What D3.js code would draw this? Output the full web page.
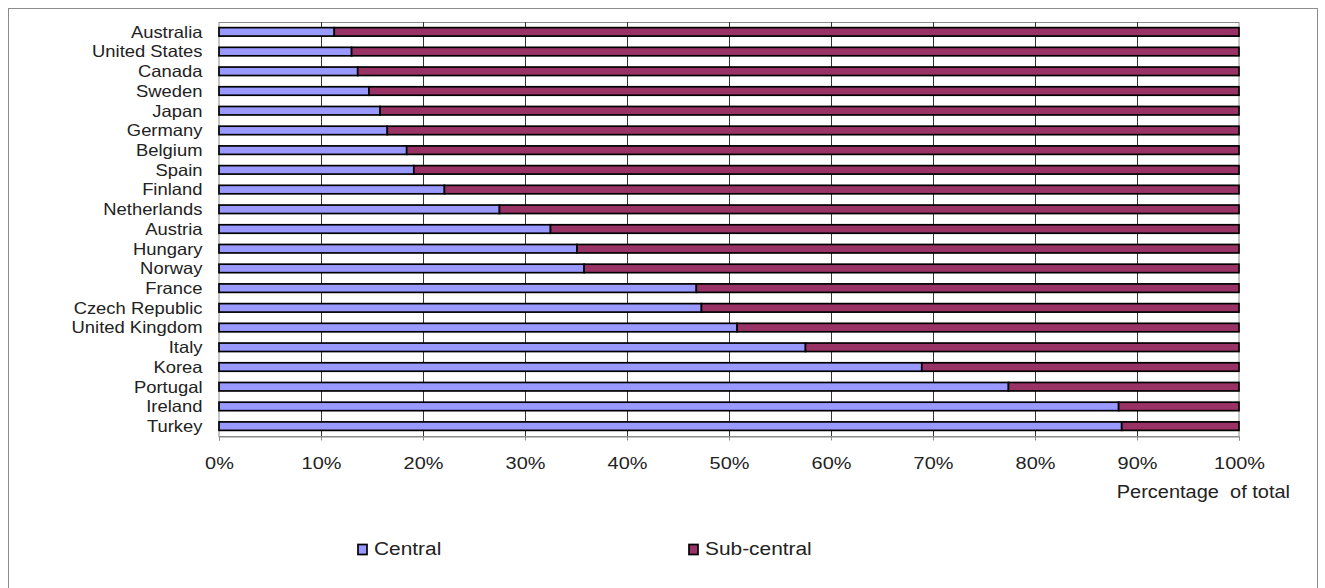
<!DOCTYPE html>
<html>
<head>
<meta charset="utf-8">
<script src="https://cdn.jsdelivr.net/npm/d3@7"></script>
<style>
  html, body { margin: 0; padding: 0; background: #fff; }
  svg text { font-family: "Liberation Sans", Arial, sans-serif; fill: #222; }
</style>
</head>
<body>
<svg id="chart" width="1325" height="588"></svg>
<script>
// Share of central vs sub-central, per country (percent of total)
const countries = ["Australia", "United States", "Canada", "Sweden", "Japan", "Germany",
  "Belgium", "Spain", "Finland", "Netherlands", "Austria", "Hungary", "Norway", "France",
  "Czech Republic", "United Kingdom", "Italy", "Korea", "Portugal", "Ireland", "Turkey"];
const central = [11.3, 13.0, 13.6, 14.7, 15.8, 16.5, 18.4, 19.1, 22.1, 27.5, 32.5, 35.1,
  35.8, 46.8, 47.3, 50.8, 57.5, 68.9, 77.4, 88.2, 88.5];
const subCentral = central.map(v => 100 - v);
const xTicks = [0, 10, 20, 30, 40, 50, 60, 70, 80, 90, 100];
const seriesNames = ["Central", "Sub-central"];
const seriesColors = ["#9999FF", "#993366"];

const svg = d3.select("#chart");

// outer frame
svg.append("rect")
  .attr("x", 8.5).attr("y", 8.5).attr("width", 1309).attr("height", 590)
  .attr("fill", "none").attr("stroke", "#8c8c8c").attr("stroke-width", 1);

const plot = { left: 219, right: 1239, top: 22, bottom: 436 };

const x = d3.scaleLinear().domain([0, 100]).range([plot.left, plot.right]);
const y = d3.scaleBand().domain(countries).range([plot.top, plot.bottom]);

// plot area frame (grey)
svg.append("rect")
  .attr("x", plot.left).attr("y", plot.top + 0.5)
  .attr("width", plot.right - plot.left).attr("height", plot.bottom - plot.top)
  .attr("fill", "#fff").attr("stroke", "#8c8c8c").attr("stroke-width", 1);

// vertical gridlines
svg.append("g").selectAll("line")
  .data(xTicks.slice(1, -1))
  .join("line")
  .attr("x1", d => Math.round(x(d)) + 0.5).attr("x2", d => Math.round(x(d)) + 0.5)
  .attr("y1", plot.top).attr("y2", plot.bottom)
  .attr("stroke", "#333").attr("stroke-width", 1);

// bottom axis
const xAxis = d3.axisBottom(x)
  .tickValues(xTicks)
  .tickFormat(d => d + "%")
  .tickSize(4)
  .tickPadding(16);
const gx = svg.append("g")
  .attr("transform", `translate(0,${plot.bottom + 0.5})`)
  .call(xAxis);
gx.select(".domain").attr("stroke", "#8c8c8c");
gx.selectAll(".tick line").attr("stroke", "#8c8c8c");
gx.selectAll(".tick text")
  .style("font-size", "17px")
  .attr("transform", "scale(1.17,1)")
  .attr("fill", "#222");

svg.append("text")
  .attr("transform", "translate(1290,497.5) scale(1.08,1)")
  .attr("text-anchor", "end")
  .style("font-size", "18.5px")
  .style("white-space", "pre")
  .text("Percentage  of total");

// category labels
svg.append("g").selectAll("text")
  .data(countries)
  .join("text")
  .attr("transform", d => `translate(202.5,${y(d) + y.bandwidth() / 2}) scale(1.13,1)`)
  .attr("dy", "0.36em")
  .attr("text-anchor", "end")
  .style("font-size", "16.3px")
  .text(d => d);

// stacked bars
const barH = y.bandwidth() * 0.43;
const rows = countries.map((c, i) => ({ country: c, values: [central[i], subCentral[i]] }));
const stacked = rows.flatMap(r => {
  let acc = 0;
  return r.values.map((v, k) => {
    const seg = { country: r.country, k, x0: acc, x1: acc + v };
    acc += v;
    return seg;
  });
});

svg.append("g").selectAll("rect")
  .data(stacked)
  .join("rect")
  .attr("x", d => x(d.x0))
  .attr("width", d => x(d.x1) - x(d.x0))
  .attr("y", d => y(d.country) + (y.bandwidth() - barH) / 2)
  .attr("height", barH)
  .attr("fill", d => seriesColors[d.k])
  .attr("stroke", "#000").attr("stroke-width", 1.7);

// legend
const legendX = [358, 689];
const lg = svg.append("g").selectAll("g")
  .data(seriesNames)
  .join("g")
  .attr("transform", (d, i) => `translate(${legendX[i]},549.5)`);
lg.append("rect")
  .attr("x", 0).attr("y", -5).attr("width", 9).attr("height", 10)
  .attr("fill", (d, i) => seriesColors[i])
  .attr("stroke", "#000").attr("stroke-width", 1.7);
lg.append("text")
  .attr("transform", "translate(16,5.5) scale(1.16,1)")
  .style("font-size", "18px")
  .text(d => d);
</script>
</body>
</html>
